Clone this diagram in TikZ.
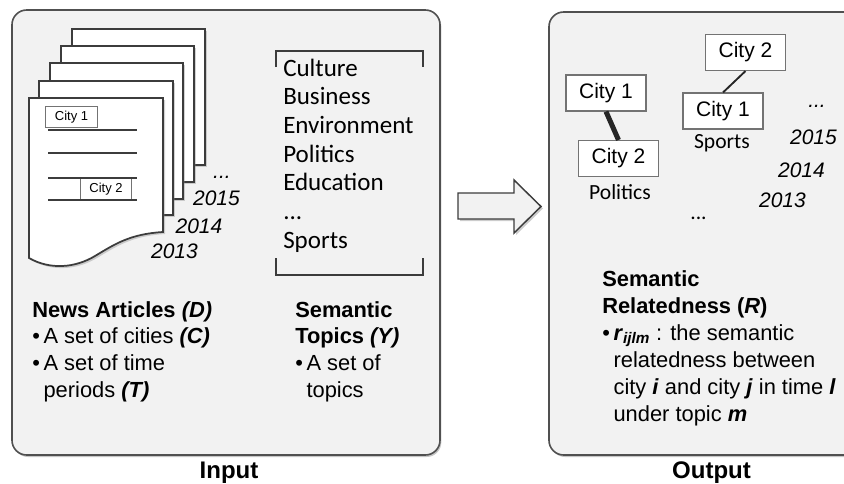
\documentclass[tikz,border=0pt]{standalone}
\usepackage{fontspec}
\setmainfont{Liberation Sans}
\newfontfamily\calibrifont{Carlito}
\usetikzlibrary{shadows}

\begin{document}
\begin{tikzpicture}[x=0.75pt,y=0.75pt,yscale=-1,xscale=1,
  panel/.style={draw={rgb, 255:red, 80; green, 80; blue, 80 }, line width=1.2pt, fill={rgb, 255:red, 242; green, 242; blue, 242 }, rounded corners=11pt, drop shadow={shadow xshift=1pt, shadow yshift=-1.5pt, opacity=0.45}},
  page/.style={draw={rgb, 255:red, 60; green, 60; blue, 60 }, line width=1.3pt, fill=white, drop shadow={shadow xshift=1.5pt, shadow yshift=-1.5pt, opacity=0.35}},
  docline/.style={draw={rgb, 255:red, 60; green, 60; blue, 60 }, line width=1.1pt},
  cityBox/.style={draw={rgb, 255:red, 115; green, 115; blue, 115 }, line width=0.8pt, fill=white, minimum width=60pt, minimum height=27pt, inner sep=0pt, font=\fontsize{15.75}{18}\selectfont},
  smallBox/.style={draw={rgb, 255:red, 115; green, 115; blue, 115 }, line width=0.7pt, fill=white, minimum width=38.5pt, minimum height=16pt, inner sep=0pt, font=\fontsize{9.75}{11}\selectfont},
  bodytxt/.style={anchor=base west, inner sep=0pt, align=left, font=\fontsize{16.4}{20}\selectfont},
  yeartxt/.style={anchor=base, inner sep=0pt, font=\itshape\fontsize{15.75}{18}\selectfont},
  caltxt/.style={anchor=base, inner sep=0pt, font=\calibrifont\fontsize{16.2}{19}\selectfont}]
\clip (0,0) rectangle (844,483);

%Shape: Rounded Rect (input panel)
\draw [panel] (12,10) rectangle (440,455);
%Shape: Rounded Rect (output panel)
\draw [panel] (549,12) rectangle (870,455);

%Shape: Right Arrow
\draw [draw={rgb, 255:red, 60; green, 60; blue, 60 }, line width=1.1pt, fill={rgb, 255:red, 242; green, 242; blue, 242 }, drop shadow={shadow xshift=1.5pt, shadow yshift=-1.5pt, opacity=0.4}] (458,193) -- (514,193) -- (514,180) -- (541,206.5) -- (514,233) -- (514,219) -- (458,219) -- cycle ;

%Shape: Document stack
\draw [page] (72,29) rectangle (205,165);
\draw [page] (61,46) rectangle (194,182);
\draw [page] (50,63) rectangle (183,199);
\draw [page] (39,81) rectangle (173,215);
%Shape: Document (front)
\draw [page] (29,98) -- (163,98) -- (163,232) .. controls (130,234) and (115,244) .. (95,256) .. controls (75,268) and (50,270) .. (29,258) -- cycle ;

% Text Node
\draw (71.5,117) node (docCityA) [smallBox] {City 1};
% Text Node
\draw (106,189) node (docCityB) [smallBox] {City 2};
%Straight Lines
\draw [docline] (48,130) -- (137,130) ;
\draw [docline] (48,153) -- (137,153) ;
\draw [docline] (48,178) -- (137,178) ;
\draw [docline] (48,200) -- (137,200) ;

% Text Node
\draw (222,178) node (dotsIn) [yeartxt] {...};
\draw (216.5,205) node (yearInA) [yeartxt] {2015};
\draw (199,233) node (yearInB) [yeartxt] {2014};
\draw (174.5,258) node (yearInC) [yeartxt] {2013};

%Shape: Brackets (topics)
\draw [draw={rgb, 255:red, 60; green, 60; blue, 60 }, line width=0.9pt] (276,67) -- (276,51) -- (423,51) -- (423,67) ;
\draw [draw={rgb, 255:red, 60; green, 60; blue, 60 }, line width=0.9pt] (276,258) -- (276,275) -- (423,275) -- (423,258) ;
% Text Node (base = last line)
\draw (283,248) node (topicList) [anchor=base west, inner sep=0pt, align=left, font=\calibrifont\fontsize{18.75}{21.5}\selectfont] {Culture\\Business\\Environment\\Politics\\Education\\...\\Sports};

% Text Node
\draw (32,397) node (newsTxt) [bodytxt] {\textbf{News Articles \textit{(D)}}\\\textbullet\,A set of cities \textbf{\textit{(C)}}\\\textbullet\,A set of time\\\phantom{\textbullet\,}periods \textbf{\textit{(T)}}};
% Text Node
\draw (295,397) node (topicTxt) [bodytxt] {\textbf{Semantic}\\\textbf{Topics \textit{(Y)}}\\\textbullet\,A set of\\\phantom{\textbullet\,}topics};

%Output boxes
\draw (606,93) node (cityA) [cityBox] {City 1};
\draw (618.5,158.5) node (cityB) [cityBox] {City 2};
\draw (745.5,52.5) node (cityC) [cityBox] {City 2};
\draw (723,111) node (cityD) [cityBox] {City 1};
%Straight Lines
\draw [color={rgb, 255:red, 38; green, 38; blue, 38 }, line width=3.75pt] (cityA.south) -- (cityB.north) ;
\draw [color={rgb, 255:red, 38; green, 38; blue, 38 }, line width=1.4pt] (cityC.south) -- (cityD.north) ;

% Text Node
\draw (620,199) node (polTxt) [caltxt] {Politics};
\draw (722,148) node (sportTxt) [caltxt] {Sports};
\draw (817,107) node (dotsOut) [yeartxt] {...};
\draw (813.5,144) node (yearOutA) [yeartxt] {2015};
\draw (801.5,177) node (yearOutB) [yeartxt] {2014};
\draw (782.5,207) node (yearOutC) [yeartxt] {2013};
\draw (698.5,219) node (dotsMid) [caltxt] {...};

% Text Node
\draw (602,421) node (relTxt) [bodytxt, font=\fontsize{16.4}{20.25}\selectfont] {\textbf{Semantic}\\\textbf{Relatedness (\textit{R})}\\\textbullet\,\textbf{\textit{r}}\textsubscript{\textbf{\textit{ijlm}}} : the semantic\\\phantom{\textbullet\,}relatedness between\\\phantom{\textbullet\,}city \textbf{\textit{i}} and city \textbf{\textit{j}} in time \textbf{\textit{l}}\\\phantom{\textbullet\,}under topic \textbf{\textit{m}}};

% Text Node
\draw (229,478) node (inLbl) [anchor=base, inner sep=0pt, font=\bfseries\fontsize{18}{21}\selectfont] {Input};
\draw (711.5,478) node (outLbl) [anchor=base, inner sep=0pt, font=\bfseries\fontsize{18}{21}\selectfont] {Output};

\end{tikzpicture}
\end{document}
